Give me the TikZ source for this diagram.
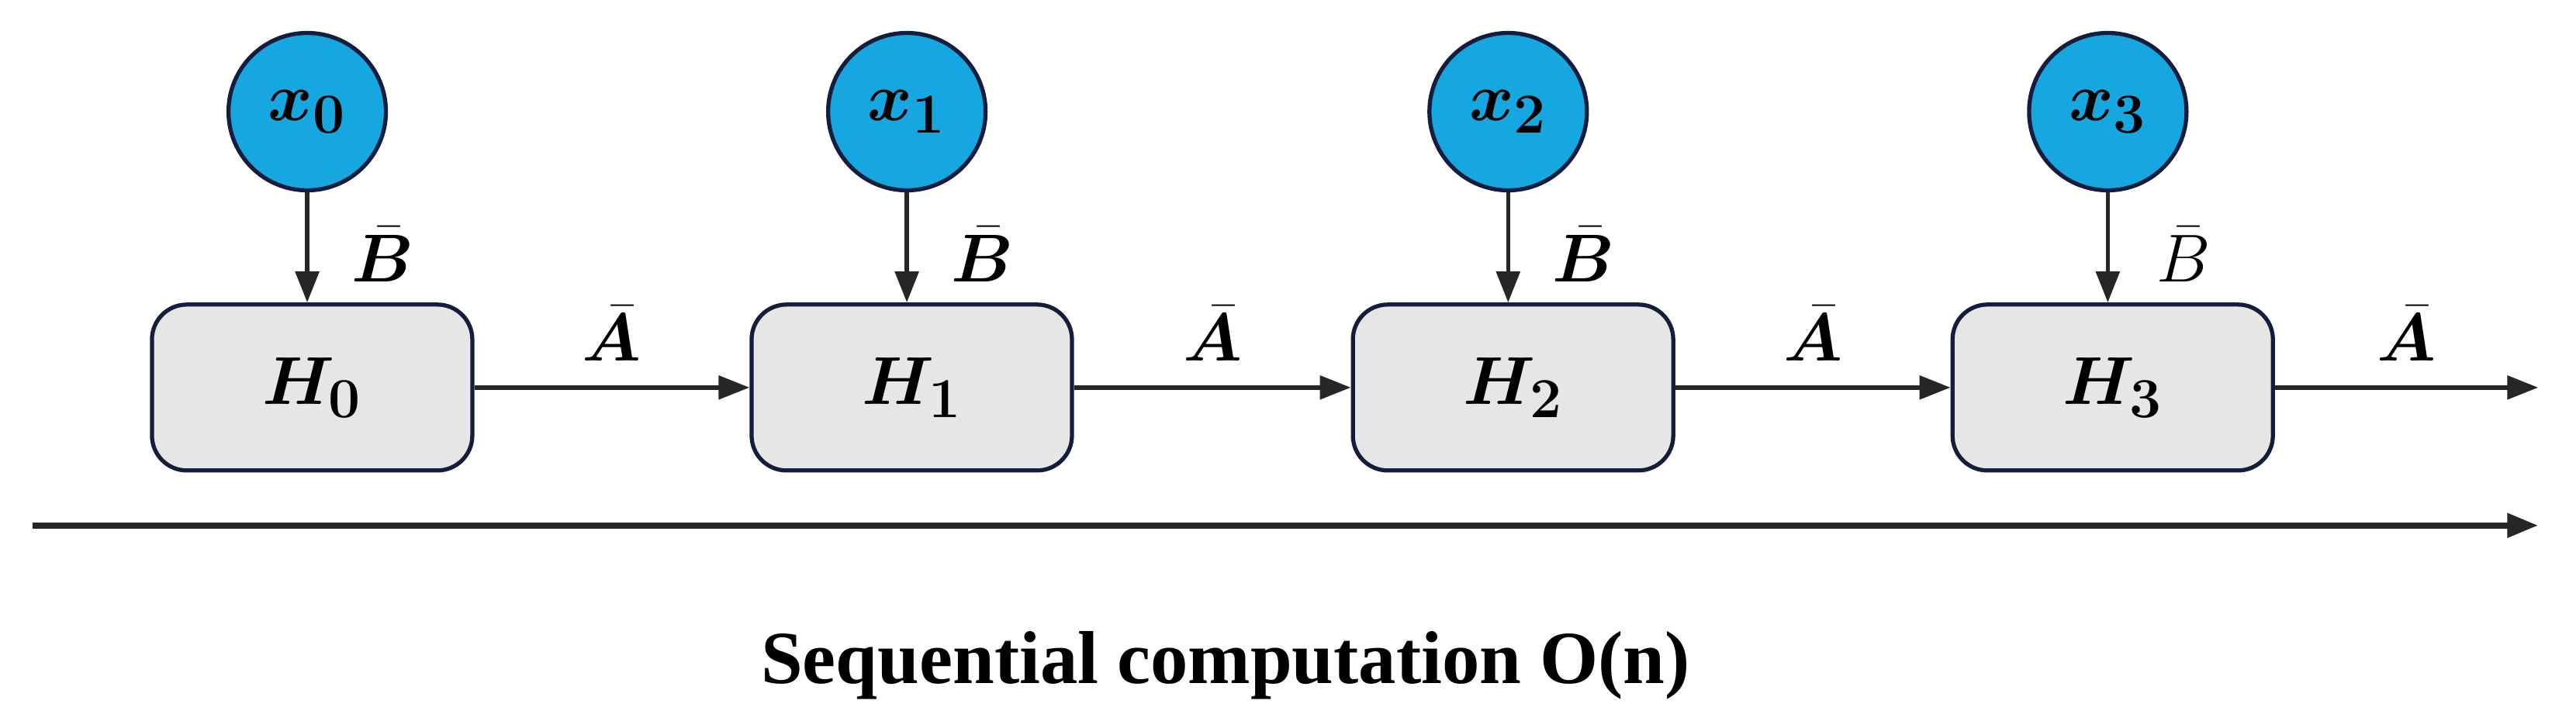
\documentclass[tikz,border=0pt]{standalone}
\usepackage{bm}
\usepackage{fontspec}
\newfontfamily\libserif{Liberation Serif}
\usetikzlibrary{arrows.meta}
\definecolor{cyanf}{RGB}{23,167,224}
\definecolor{navy}{RGB}{20,30,60}
\definecolor{boxg}{RGB}{230,230,230}
\begin{document}
\begin{tikzpicture}[x=0.02118cm,y=-0.02118cm,
  inp/.style={circle,draw=navy,fill=cyanf,line width=1.5pt,minimum size=2.03cm,inner sep=0pt,font=\fontsize{28}{32}\selectfont},
  st/.style={rounded corners=0.45cm,draw=navy,fill=boxg,line width=1.5pt,minimum width=4.13cm,minimum height=2.14cm,font=\fontsize{28}{32}\selectfont},
  arr/.style={line width=1.6pt,draw=black!85,-{Triangle[length=0.4cm,width=0.3cm]}},
  lab/.style={font=\fontsize{26}{30}\selectfont,inner sep=1pt}]
\useasboundingbox (0,0) rectangle (1568,443);
\foreach \i/\x in {0/187,1/552,2/918,3/1283}{
  \node[inp] (x\i) at (\x,68) {$\bm{x_{\i}}$};
  \node[st] (h\i) at (\x+3,236) {$\bm{H_{\i}}$};
  \draw[arr] (x\i) -- (h\i.north -| x\i);
}
\foreach \x in {187,552,918}{\node[lab] at (\x+46,155) {$\bm{\bar B}$};}
\node[lab] at (1283+46,155) {$\bar B$};
\draw[arr] (h0.east) -- (h1.west) node[lab,midway,above=8pt] {$\bm{\bar A}$};
\draw[arr] (h1.east) -- (h2.west) node[lab,midway,above=8pt] {$\bm{\bar A}$};
\draw[arr] (h2.east) -- (h3.west) node[lab,midway,above=8pt] {$\bm{\bar A}$};
\coordinate (e) at (1545,236);
\draw[arr] (h3.east) -- (e) node[lab,midway,above=8pt] {$\bm{\bar A}$};
\coordinate (ts) at (20,320);
\coordinate (te) at (1545,320);
\draw[arr,line width=2.4pt] (ts) -- (te);
\node[font=\fontsize{27.5}{32}\libserif\bfseries] (t) at (746,405) {Sequential computation O(n)};
\end{tikzpicture}
\end{document}
